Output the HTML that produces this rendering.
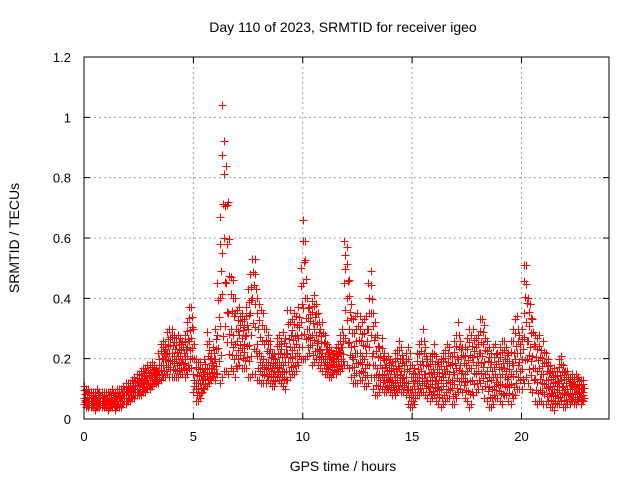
<!DOCTYPE html>
<html><head><meta charset="utf-8"><style>
body{margin:0;background:#fff}
svg{display:block;font-family:"Liberation Sans",sans-serif}
</style></head><body>
<svg id="chart" width="640" height="480" viewBox="0 0 640 480">
<rect width="640" height="480" fill="#fff"/>
<g id="grid"></g><g id="marks" shape-rendering="crispEdges"></g><g id="axes"></g>
<text x="343" y="32" text-anchor="middle" font-size="14">Day 110 of 2023, SRMTID for receiver igeo</text>
<text x="343" y="471" text-anchor="middle" font-size="14">GPS time / hours</text>
<text transform="translate(19,238) rotate(-90)" text-anchor="middle" font-size="14">SRMTID / TECUs</text>
</svg>
<script>
const xTicks=[0,5,10,15,20];
const yTicks=[0,0.2,0.4,0.6,0.8,1,1.2];
const yTickLabels=["0","0.2","0.4","0.6","0.8","1","1.2"];
const hiVals=[0.11,0.10,0.10,0.09,0.09,0.09,0.10,0.09,0.09,0.09,
0.09,0.09,0.09,0.10,0.09,0.10,0.10,0.10,0.11,0.12,
0.12,0.12,0.13,0.14,0.15,0.15,0.16,0.17,0.17,0.18,
0.18,0.19,0.18,0.17,0.22,0.25,0.26,0.25,0.29,0.30,
0.30,0.28,0.27,0.28,0.27,0.26,0.28,0.32,0.37,0.37,
0.30,0.20,0.19,0.19,0.17,0.20,0.29,0.26,0.22,0.24,
0.30,0.45,0.67,1.04,0.92,0.84,0.72,0.47,0.46,0.40,
0.36,0.37,0.35,0.33,0.37,0.43,0.48,0.53,0.53,0.40,
0.38,0.36,0.35,0.30,0.28,0.26,0.22,0.22,0.27,0.28,
0.26,0.29,0.27,0.36,0.36,0.33,0.35,0.34,0.37,0.50,
0.66,0.59,0.40,0.37,0.39,0.41,0.38,0.35,0.30,0.32,
0.28,0.25,0.24,0.23,0.22,0.24,0.25,0.28,0.30,0.59,
0.57,0.46,0.38,0.33,0.34,0.35,0.34,0.32,0.33,0.34,
0.45,0.49,0.35,0.32,0.28,0.24,0.27,0.22,0.20,0.21,
0.20,0.19,0.22,0.23,0.26,0.24,0.20,0.22,0.24,0.22,
0.18,0.17,0.22,0.25,0.26,0.30,0.24,0.20,0.21,0.22,
0.25,0.21,0.19,0.20,0.22,0.23,0.25,0.24,0.21,0.26,
0.28,0.32,0.26,0.24,0.24,0.27,0.30,0.28,0.30,0.27,
0.28,0.33,0.33,0.31,0.26,0.24,0.22,0.24,0.25,0.22,
0.24,0.26,0.26,0.24,0.22,0.26,0.30,0.33,0.34,0.28,
0.30,0.51,0.51,0.40,0.38,0.33,0.28,0.27,0.28,0.23,
0.26,0.22,0.20,0.18,0.16,0.17,0.16,0.20,0.21,0.18,
0.16,0.16,0.14,0.15,0.14,0.15,0.14,0.13,0.13];
const midVals=[0.07,0.06,0.06,0.06,0.06,0.06,0.06,0.06,0.06,0.06,
0.06,0.06,0.06,0.06,0.06,0.07,0.07,0.07,0.08,0.08,
0.09,0.09,0.10,0.10,0.11,0.11,0.12,0.12,0.13,0.13,
0.13,0.14,0.14,0.14,0.16,0.18,0.20,0.20,0.22,0.22,
0.22,0.21,0.20,0.21,0.21,0.20,0.21,0.24,0.26,0.27,
0.15,0.12,0.12,0.12,0.13,0.15,0.17,0.17,0.17,0.18,
0.20,0.28,0.40,0.55,0.60,0.45,0.35,0.30,0.28,0.25,
0.26,0.28,0.27,0.25,0.28,0.30,0.35,0.40,0.38,0.25,
0.22,0.21,0.20,0.19,0.19,0.18,0.17,0.16,0.19,0.19,
0.18,0.18,0.19,0.22,0.24,0.23,0.24,0.25,0.27,0.32,
0.45,0.40,0.30,0.30,0.28,0.30,0.28,0.26,0.23,0.22,
0.21,0.20,0.19,0.19,0.19,0.20,0.21,0.22,0.24,0.45,
0.40,0.30,0.24,0.20,0.22,0.22,0.22,0.21,0.20,0.22,
0.30,0.35,0.22,0.18,0.17,0.15,0.17,0.15,0.14,0.14,
0.14,0.13,0.14,0.15,0.17,0.16,0.14,0.14,0.12,0.10,
0.10,0.11,0.14,0.15,0.16,0.18,0.15,0.13,0.13,0.14,
0.15,0.13,0.12,0.13,0.14,0.15,0.16,0.15,0.13,0.15,
0.17,0.20,0.18,0.16,0.15,0.16,0.17,0.17,0.19,0.18,
0.19,0.22,0.21,0.19,0.16,0.14,0.13,0.14,0.15,0.14,
0.14,0.15,0.17,0.16,0.14,0.15,0.18,0.20,0.22,0.19,
0.20,0.35,0.32,0.26,0.24,0.21,0.17,0.16,0.17,0.15,
0.15,0.13,0.13,0.11,0.10,0.10,0.11,0.12,0.13,0.11,
0.10,0.10,0.10,0.10,0.10,0.10,0.10,0.09,0.09];
const loVals=[0.05,0.04,0.04,0.04,0.04,0.03,0.04,0.04,0.04,0.04,
0.04,0.03,0.04,0.04,0.03,0.04,0.04,0.04,0.05,0.05,
0.06,0.06,0.07,0.07,0.08,0.08,0.08,0.09,0.09,0.10,
0.10,0.11,0.12,0.12,0.12,0.13,0.14,0.14,0.15,0.14,
0.14,0.14,0.14,0.14,0.15,0.15,0.14,0.15,0.17,0.17,
0.09,0.06,0.06,0.07,0.09,0.10,0.11,0.12,0.13,0.14,
0.13,0.15,0.12,0.14,0.16,0.16,0.15,0.17,0.16,0.14,
0.17,0.18,0.17,0.17,0.17,0.14,0.14,0.15,0.15,0.13,
0.13,0.12,0.12,0.12,0.13,0.12,0.11,0.11,0.14,0.13,
0.12,0.11,0.10,0.13,0.14,0.15,0.15,0.16,0.18,0.20,
0.20,0.20,0.21,0.22,0.18,0.19,0.20,0.18,0.17,0.16,
0.15,0.15,0.14,0.14,0.15,0.15,0.16,0.16,0.17,0.18,
0.18,0.17,0.14,0.12,0.12,0.12,0.13,0.13,0.11,0.11,
0.12,0.14,0.10,0.08,0.08,0.09,0.10,0.09,0.09,0.10,
0.09,0.08,0.08,0.09,0.10,0.09,0.09,0.08,0.05,0.04,
0.04,0.05,0.08,0.08,0.09,0.09,0.08,0.07,0.06,0.07,
0.08,0.06,0.05,0.04,0.05,0.06,0.07,0.07,0.05,0.05,
0.07,0.09,0.10,0.09,0.07,0.06,0.04,0.05,0.08,0.09,
0.10,0.12,0.10,0.07,0.06,0.04,0.04,0.05,0.07,0.07,
0.06,0.05,0.08,0.08,0.06,0.05,0.07,0.08,0.10,0.10,
0.10,0.12,0.14,0.12,0.10,0.09,0.06,0.05,0.06,0.06,
0.05,0.05,0.06,0.04,0.04,0.03,0.05,0.05,0.06,0.04,
0.04,0.05,0.05,0.06,0.05,0.05,0.06,0.05,0.06];
const timeStep=0.1;

const L=84,R=609,T=57,B=419,XMAX=24,YMAX=1.2;
const xs=v=>L+(R-L)*v/XMAX;
const ys=v=>B-(B-T)*v/YMAX;
const NS='http://www.w3.org/2000/svg';
function mk(tag,attrs,parent){const e=document.createElementNS(NS,tag);for(const k in attrs)e.setAttribute(k,attrs[k]);parent.appendChild(e);return e;}
const grid=document.getElementById('grid'),axes=document.getElementById('axes'),marks=document.getElementById('marks');

xTicks.forEach((t,i)=>{
  if(t>0){const g=mk('line',{x1:xs(t),x2:xs(t),y1:T,y2:B,stroke:'#a0a0a0','stroke-dasharray':'2,3'},grid);
  
  }
  const tk=mk('path',{d:`M${xs(t)},${B}v-6M${xs(t)},${T}v6`,stroke:'#000'},axes);
  
  
  const lb=mk('text',{x:xs(t),y:B+22,'text-anchor':'middle','font-size':13},axes);
  lb.textContent=String(t);
  
  
});
yTicks.forEach((t,i)=>{
  if(t>0&&t<YMAX){const g=mk('line',{x1:L,x2:R,y1:ys(t),y2:ys(t),stroke:'#a0a0a0','stroke-dasharray':'2,3'},grid);
  
  }
  const tk=mk('path',{d:`M${L},${ys(t)}h6M${R},${ys(t)}h-6`,stroke:'#000'},axes);
  
  
  const lb=mk('text',{x:L-13,y:ys(t)+5,'text-anchor':'end','font-size':13},axes);
  lb.textContent=yTickLabels[i];
  
  
});
const frame=mk('rect',{x:L,y:T,width:R-L,height:B-T,fill:'none',stroke:'#000'},axes);



function plus(t,v){
  const x=Math.round(xs(t))+0.5,y=Math.round(ys(v))+0.5;
  const p=mk('path',{d:`M${x-4},${y}h8M${x},${y-4}v8`,stroke:'#f00','stroke-width':1},marks);
  
  
}
for(let i=0;i<hiVals.length;i++){
  const t=i*timeStep;
  const lo=loVals[i],md=midVals[i],hi=hiVals[i];
  plus(t,lo);
  plus(t+0.05,(2*lo+md)/3);
  plus(t+0.03,(lo+2*md)/3);
  plus(t,md);
  plus(t+0.05,(2*md+hi)/3);
  plus(t+0.02,(md+2*hi)/3);
  plus(t,hi);
}
</script>
</body></html>
